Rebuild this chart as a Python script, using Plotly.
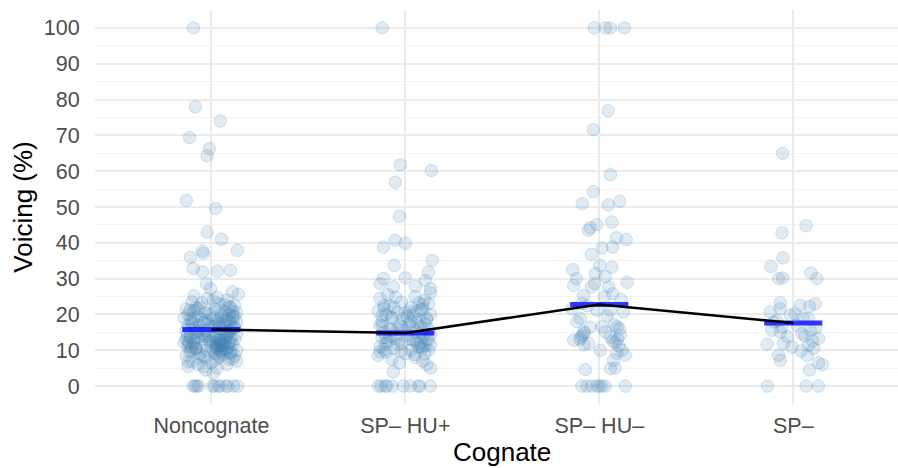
import plotly.graph_objects as go

# ---------------- data ----------------
categories = ["Noncognate", "SP\u2013 HU+", "SP\u2013 HU\u2013", "SP\u2013"]
y_ticks = [0, 10, 20, 30, 40, 50, 60, 70, 80, 90, 100]
x_title = "Cognate"
y_title = "Voicing (%)"

# group means (blue bars)
means = [15.8, 14.8, 22.8, 17.6]

# Noncognate: voicing values and horizontal jitter (category units)
nc_vals = [100, 78, 74, 69.4, 66.3, 64.3, 51.8, 49.6, 43, 41, 37.9, 37.7, 37, 36,
           32.8, 31.9, 32.1, 32.3, 28.6, 27.2, 26.3, 25.6,
           24.5, 24, 23.5, 23, 22.5, 22, 22, 21.5, 21.5, 21, 21, 20.5, 20.5, 20, 20, 20,
           19.5, 19.5, 19, 19, 19, 18.5, 18.5, 18, 18, 18, 17.5, 17.5, 17, 17, 17,
           16.5, 16.5, 16, 16, 15.5, 15.5, 15.5, 15, 15, 14.5, 14.5, 14, 14, 14,
           13.5, 13.5, 13, 13, 13, 12.5, 12.5, 12, 12, 12, 11.5, 11.5, 11, 11, 11,
           10.5, 10.5, 10, 10, 10, 9.5, 9.5, 9, 9, 8.5, 8.5, 8, 8, 7.5, 7, 7, 6.5,
           6, 6, 5.5, 5, 4.5, 3.6,
           24.8, 23.2, 22.8, 21.8, 20.8, 20.2, 19.2, 18.8, 18.2, 17.8, 16.8, 16.2,
           15.2, 14.8, 14.2, 13.8, 13.2, 12.8, 12.2, 11.8, 11.2, 10.8, 10.2, 9.8,
           9.2, 8.8, 7.8, 7.2, 6.8, 25.2, 23.8, 19.8, 17.2, 14.6, 12.6, 11.4, 10.6,
           9.6, 12.9, 11.7, 10.9, 13.1, 12.3, 11.1, 10.4, 8.2, 7.6, 15.8, 16.9, 18.9,
           21.2, 22.2, 5.4,
           19.4, 18.6, 17.4, 16.6, 15.4, 14.4, 13.4, 12.4, 11.6, 10.4, 9.4, 14.9, 13.9,
           12.1, 11.3, 10.7, 16.4, 17.6, 20.6, 21.6, 13.6, 12.7, 11.9, 15.6, 18.4, 9.9,
           8.6, 14.1, 12.2, 10.1,
           0, 0, 0, 0, 0, 0, 0, 0, 0, 0, 0, 0, 0, 0, 0]
nc_jit = [-0.093, -0.082, 0.046, -0.113, -0.010, -0.021, -0.129, 0.021, -0.021, 0.052,
          0.134, -0.046, -0.041, -0.108, -0.093, -0.046, 0.031, 0.098, -0.026, -0.005,
          0.108, 0.139,
          -0.02, 0.08, -0.10, 0.04, 0.12, -0.06, 0.10, -0.13, 0.02, 0.06, -0.09, 0.13,
          -0.03, -0.12, 0.09, 0.00, -0.07, 0.05, 0.11, -0.14, 0.01, -0.05, 0.08, -0.10,
          0.03, 0.13, -0.02, 0.10, -0.12, 0.06, -0.06, 0.00, 0.12, -0.09, 0.04, -0.13,
          0.09, -0.03, 0.06, -0.08, 0.13, 0.01, -0.11, 0.07, -0.04, 0.10, -0.07, 0.03,
          -0.13, 0.12, -0.01, 0.05, -0.09, 0.09, 0.02, -0.05, 0.11, -0.12, 0.04, 0.00,
          0.08, -0.08, 0.13, -0.02, 0.05, -0.11, 0.10, 0.02, -0.06, 0.12, -0.13, 0.04,
          -0.03, 0.09, -0.10, 0.13, 0.00, -0.07, 0.08, -0.12, 0.03, -0.03, 0.01,
          0.03, -0.05, 0.07, -0.08, 0.11, -0.01, 0.06, -0.11, 0.09, -0.04, 0.02, 0.12,
          -0.07, 0.05, 0.08, -0.03, 0.07, 0.04, -0.14, 0.06, 0.03, -0.10, 0.07, 0.05,
          0.10, 0.06, -0.06, 0.02, -0.12, -0.09, 0.01, 0.11, 0.04, -0.04, 0.07, 0.05,
          0.03, 0.08, 0.04, 0.06, 0.02, -0.05, 0.10, 0.09, -0.08, -0.04, 0.11,
          -0.11, 0.07, -0.09,
          -0.11, 0.09, -0.04, 0.12, 0.07, -0.10, 0.01, -0.06, 0.08, 0.02, -0.09, 0.03,
          0.06, 0.05, 0.09, -0.01, -0.12, 0.04, -0.08, 0.11, 0.04, 0.07, -0.07, -0.11,
          0.00, 0.06, 0.10, -0.03, 0.01, 0.04,
          -0.125, -0.115, -0.105, -0.095, -0.085, -0.075, -0.065, 0.005, 0.015, 0.035,
          0.045, 0.075, 0.085, 0.115, 0.135]

# SP- HU+
hp_vals = [100, 61.8, 60.2, 56.9, 47.4, 40.7, 39.9, 38.8, 33.7, 35.1, 31.8, 30.2, 30,
           29.5, 27.9, 27.2, 27.7, 28.6,
           26, 25.5, 25, 24.5, 24, 23.5, 23, 22.5, 22, 22, 21.5, 21, 21, 20.5, 20, 20,
           19.5, 19, 19, 18.5, 18, 18, 17.5, 17, 17, 16.5, 16, 16, 15.5, 15, 15, 14.5,
           14, 14, 13.5, 13, 13, 12.5, 12, 12, 11.5, 11, 11, 10.5, 10, 10, 9.5, 9, 9,
           8.5, 8, 7.5, 7, 6.5, 6, 5, 4,
           24.8, 23.2, 21.8, 20.8, 19.8, 18.8, 17.8, 16.8, 15.8, 14.8, 13.8, 12.8,
           11.8, 10.8, 9.8, 8.8, 22.8, 19.2, 16.2, 13.2, 11.2, 10.2, 12.2, 14.2,
           21.4, 19.6, 18.4, 17.2, 15.6, 14.6, 13.6, 12.6, 11.6, 10.6, 9.6, 20.4, 16.6,
           12.9, 22.4,
           0, 0, 0, 0, 0, 0, 0, 0, 0, 0]
hp_jit = [-0.119, -0.026, 0.134, -0.052, -0.031, -0.052, 0.000, -0.113, -0.057, 0.139,
          0.119, 0.000, -0.113, 0.103, 0.052, 0.129, -0.062, -0.129,
          0.13, -0.09, 0.05, -0.13, 0.10, -0.02, 0.12, -0.11, 0.03, -0.06, 0.09, -0.14,
          0.06, -0.04, 0.13, -0.10, 0.01, 0.11, -0.07, 0.07, -0.12, 0.03, 0.10, -0.03,
          -0.13, 0.08, -0.08, 0.12, 0.00, -0.11, 0.05, 0.13, -0.05, 0.09, -0.12, 0.02,
          0.11, -0.09, 0.06, -0.02, 0.13, -0.13, 0.08, -0.06, 0.03, 0.12, -0.10, 0.00,
          0.10, -0.14, 0.05, -0.07, 0.09, -0.03, 0.11, 0.129, -0.062,
          -0.05, 0.07, -0.11, 0.02, 0.04, -0.01, 0.06, -0.12, -0.04, 0.08, -0.08, 0.04,
          -0.10, 0.07, -0.02, 0.05, 0.09, -0.07, 0.04, -0.05, 0.10, -0.11, 0.08, 0.01,
          0.08, -0.12, 0.11, 0.02, -0.07, 0.10, -0.10, 0.05, -0.04, 0.09, -0.13, 0.00,
          -0.02, 0.12, -0.08,
          -0.139, -0.125, -0.103, -0.095, -0.067, -0.010, 0.026, 0.067, 0.075, 0.129]

# SP- HU-
hm_vals = [100, 100, 100, 100, 76.9, 71.6, 59, 54.3, 50.9, 50.6, 51.6, 44.2, 45.1,
           45.8, 43.5, 38.6, 41.4, 40.9, 38.8, 36.8, 33.7, 33.2, 32.5, 30, 28.1, 31.4,
           30.6, 28.6, 27.7, 27.7, 29, 25.8, 25.3, 24.9, 23, 21.2, 21.2, 20.7, 21.6,
           18.9, 16.5, 14.2, 14.8, 13.6, 15.2, 16.5, 14.2, 12.3, 10, 8.6, 12.8, 11.9,
           10, 13.7, 15.1, 16.5, 7.2, 4.9, 4.6, 5, 13.2, 12.6, 11.2, 16.0, 17.2,
           9.2, 18.0, 19.6, 22.4, 24.2, 11.5, 13.0,
           0, 0, 0, 0, 0, 0, 0, 0]
hm_jit = [-0.026, 0.031, 0.057, 0.129, 0.046, -0.031, 0.057, -0.031, -0.088, 0.046,
          0.105, -0.046, -0.012, 0.065, -0.057, 0.014, 0.088, 0.139, 0.069, -0.041,
          0.002, 0.065, -0.136, -0.119, -0.132, -0.021, 0.031, -0.024, -0.041, 0.048,
          0.143, 0.069, -0.081, 0.027, -0.089, -0.012, 0.057, 0.124, -0.141, -0.098,
          -0.046, -0.088, -0.075, -0.095, -0.081, 0.091, 0.108, 0.082, 0.117, 0.134,
          -0.132, -0.055, 0.005, 0.057, 0.031, 0.014, 0.074, 0.057, -0.072, 0.082,
          0.095, 0.070, 0.100, 0.105, 0.078, 0.090, -0.115, 0.040, -0.060, 0.112,
          -0.080, -0.100,
          -0.090, -0.064, -0.039, -0.012, 0.000, 0.014, 0.031, 0.134]

# SP-
sm_vals = [65, 42.8, 44.8, 35.8, 33.4, 30, 30.2, 31.6, 30, 23.3, 21.6, 20.7, 22.6,
           22.3, 23, 19.8, 18.9, 17.9, 16.5, 17, 15.6, 15.6, 15.1, 14.7, 13.3, 11.7,
           11.9, 10.9, 11.4, 10.5, 8.6, 7.2, 6.5, 4.5, 8.6, 6.0, 18.2, 20.2, 12.6,
           14.0, 16.2, 9.8, 13.8, 19.0,
           0, 0, 0]
sm_jit = [-0.055, -0.058, 0.066, -0.053, -0.115, -0.076, -0.055, 0.091, 0.122, -0.067,
          -0.067, -0.119, 0.036, 0.084, 0.113, -0.015, 0.079, -0.101, -0.058, 0.019,
          0.088, -0.110, -0.067, 0.045, 0.130, -0.135, -0.050, -0.007, 0.079, 0.105,
          0.072, -0.067, 0.130, 0.084, -0.076, 0.150, -0.085, 0.010, 0.100, 0.060,
          0.115, 0.040, -0.030, 0.050,
          -0.133, 0.067, 0.130]

groups = [(nc_vals, nc_jit), (hp_vals, hp_jit), (hm_vals, hm_jit), (sm_vals, sm_jit)]

# ---------------- figure ----------------
fig = go.Figure()

for i, (vals, jit) in enumerate(groups):
    pos = i + 1
    fig.add_trace(go.Scatter(
        x=[pos + j for j in jit], y=vals, mode="markers",
        marker=dict(size=12.5, color="rgba(70,130,180,0.16)",
                    line=dict(color="rgba(70,130,180,0.22)", width=1)),
        showlegend=False, hoverinfo="y"))

# blue mean bars
bx, by = [], []
for i, m in enumerate(means):
    pos = i + 1
    bx += [pos - 0.15, pos + 0.15, None]
    by += [m, m, None]
fig.add_trace(go.Scatter(x=bx, y=by, mode="lines",
                         line=dict(color="rgba(20,20,255,0.85)", width=5),
                         showlegend=False, hoverinfo="skip"))

# black line joining means
fig.add_trace(go.Scatter(x=list(range(1, len(means) + 1)), y=means, mode="lines",
                         line=dict(color="black", width=2.5),
                         showlegend=False, hoverinfo="skip"))

font_family = "Liberation Sans, Arial, sans-serif"
fig.update_layout(
    width=898, height=468,
    margin=dict(l=95, r=0, t=10, b=64),
    plot_bgcolor="white", paper_bgcolor="white",
    font=dict(family=font_family),
    xaxis=dict(
        range=[0.4, 4.54], automargin=False,
        tickmode="array", tickvals=[1, 2, 3, 4], ticktext=categories,
        tickfont=dict(size=21.5, color="#4d4d4d"),
        ticks="outside", ticklen=2, tickcolor="rgba(0,0,0,0)",
        showgrid=True, gridcolor="#ebebeb", gridwidth=2,
        zeroline=False, showline=False,
    ),
    yaxis=dict(
        range=[-5, 105], automargin=False,
        tickmode="array", tickvals=y_ticks,
        tickfont=dict(size=21.5, color="#4d4d4d"),
        ticks="outside", ticklen=10, tickcolor="rgba(0,0,0,0)",
        showgrid=True, gridcolor="#ebebeb", gridwidth=2,
        minor=dict(dtick=5, tick0=-5, showgrid=True, gridcolor="#f2f2f2", gridwidth=1),
        zeroline=False, showline=False,
    ),
    annotations=[
        dict(text=x_title, xref="paper", yref="paper", x=0.5068, y=-0.122,
             xanchor="center", yanchor="middle", showarrow=False,
             font=dict(size=26, color="black")),
        dict(text=y_title, xref="paper", yref="paper", x=-0.09, y=0.5,
             xanchor="center", yanchor="middle", textangle=-90, showarrow=False,
             font=dict(size=26, color="black")),
    ],
)

fig.write_html("out.html", config={"displayModeBar": False},
               post_script="document.body.style.margin='0';document.body.style.overflow='hidden';")
